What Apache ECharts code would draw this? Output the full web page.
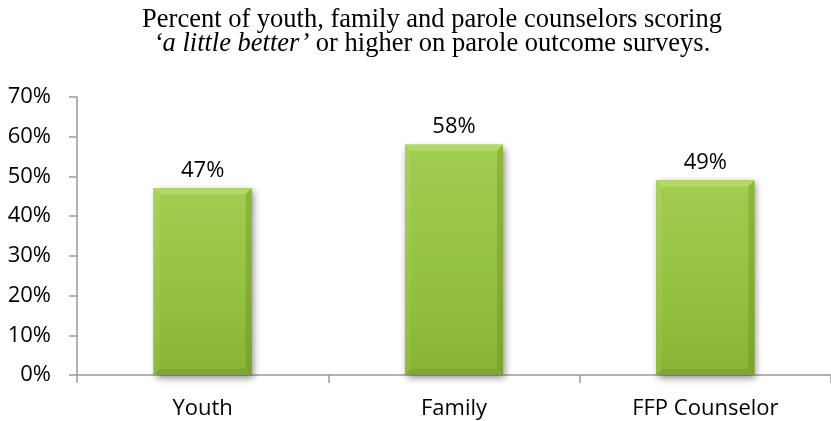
<!DOCTYPE html>
<html>
<head>
<meta charset="utf-8">
<script src="https://cdn.jsdelivr.net/npm/echarts@6/dist/echarts.min.js"></script>
<style>
  html, body { margin: 0; padding: 0; background: #ffffff; }
  #chart { width: 831px; height: 421px; }
</style>
</head>
<body>
<div id="chart"></div>
<script>
// Survey groups and the share of each scoring 'a little better' or higher
const categories = ['Youth', 'Family', 'FFP Counselor'];
const percentBetter = [47, 58, 49];
const yTicks = { min: 0, max: 70, interval: 10 };

const chart = echarts.init(document.getElementById('chart'), null, { renderer: 'canvas' });

const labelFont = '"Open Sans", "DejaVu Sans", sans-serif';
const titleFont = '"Liberation Serif", "Times New Roman", serif';
const BAR_W = 98;
const BEVEL = 6;

// Bevelled bar: body, four edge facets, soft drop shadow and a value label
function renderBevelBar(params, api) {
  const cat = api.value(0);
  const val = api.value(1);
  const topPt = api.coord([cat, val]);
  const basePt = api.coord([cat, 0]);
  const x0 = topPt[0] - BAR_W / 2;
  const x1 = topPt[0] + BAR_W / 2;
  const y0 = topPt[1];
  const y1 = basePt[1];
  const b = BEVEL;
  const h = y1 - y0;
  return {
    type: 'group',
    children: [
      {
        type: 'rect',
        shape: { x: x0, y: y0, width: BAR_W, height: h },
        style: { fill: '#8ab637', shadowColor: 'rgba(0,0,0,0.45)', shadowBlur: 7, shadowOffsetX: 2, shadowOffsetY: 3 }
      },
      {
        type: 'rect',
        shape: { x: x0, y: y0, width: BAR_W, height: h },
        style: {
          fill: new echarts.graphic.LinearGradient(0, 0, 0, 1, [
            { offset: 0, color: '#a1cd50' },
            { offset: 0.5, color: '#95c342' },
            { offset: 1, color: '#87b434' }
          ])
        }
      },
      { // top facet
        type: 'polygon',
        shape: { points: [[x0, y0], [x1, y0], [x1 - b, y0 + b], [x0 + b, y0 + b]] },
        style: { fill: '#b3da69' }
      },
      { // left facet
        type: 'polygon',
        shape: { points: [[x0, y0], [x0 + b, y0 + b], [x0 + b, y1 - b], [x0, y1]] },
        style: {
          fill: new echarts.graphic.LinearGradient(0, 0, 0, 1, [
            { offset: 0, color: '#a8d25a' },
            { offset: 1, color: '#8fbb3c' }
          ])
        }
      },
      { // right facet
        type: 'polygon',
        shape: { points: [[x1, y0], [x1, y1], [x1 - b, y1 - b], [x1 - b, y0 + b]] },
        style: {
          fill: new echarts.graphic.LinearGradient(0, 0, 0, 1, [
            { offset: 0, color: '#8db939' },
            { offset: 1, color: '#7aa42c' }
          ])
        }
      },
      { // bottom facet
        type: 'polygon',
        shape: { points: [[x0, y1], [x0 + b, y1 - b], [x1 - b, y1 - b], [x1, y1]] },
        style: { fill: '#7ea72f' }
      },
      {
        type: 'text',
        style: {
          text: val + '%',
          x: topPt[0],
          y: y0 - 7,
          textAlign: 'center',
          textVerticalAlign: 'bottom',
          fontFamily: labelFont,
          fontSize: 22,
          fill: '#000000'
        }
      }
    ]
  };
}

chart.setOption({
  animation: false,
  backgroundColor: '#ffffff',
  graphic: [{
    type: 'text',
    x: 432,
    y: 8,
    style: {
      text: 'Percent of youth, family and parole counselors scoring\n{i|‘a little better’} or higher on parole outcome surveys.',
      textAlign: 'center',
      fontFamily: titleFont,
      fontSize: 26.5,
      lineHeight: 24,
      fill: '#000000',
      rich: {
        i: { fontFamily: titleFont, fontSize: 26.5, fontStyle: 'italic', lineHeight: 24, fill: '#000000' }
      }
    }
  }],
  grid: { left: 77, right: -5, top: 97, bottom: 46, containLabel: false },
  xAxis: {
    type: 'category',
    data: categories,
    boundaryGap: true,
    axisLine: { lineStyle: { color: '#9a9a9a', width: 1.5 } },
    axisTick: { show: true, length: 8, lineStyle: { color: '#9a9a9a', width: 1.5 } },
    axisLabel: { color: '#000000', fontFamily: labelFont, fontSize: 22, margin: 23 }
  },
  yAxis: {
    type: 'value',
    min: yTicks.min,
    max: yTicks.max,
    interval: yTicks.interval,
    axisLine: { show: true, lineStyle: { color: '#9a9a9a', width: 1.5 } },
    axisTick: { show: true, length: 8, lineStyle: { color: '#9a9a9a', width: 1.5 } },
    splitLine: { show: false },
    axisLabel: {
      color: '#000000', fontFamily: labelFont, fontSize: 22, margin: 26,
      formatter: '{value}%'
    }
  },
  series: [{
    type: 'custom',
    renderItem: renderBevelBar,
    encode: { x: 0, y: 1 },
    data: percentBetter.map((v, i) => [i, v]),
    z: 2
  }]
});
</script>
</body>
</html>
